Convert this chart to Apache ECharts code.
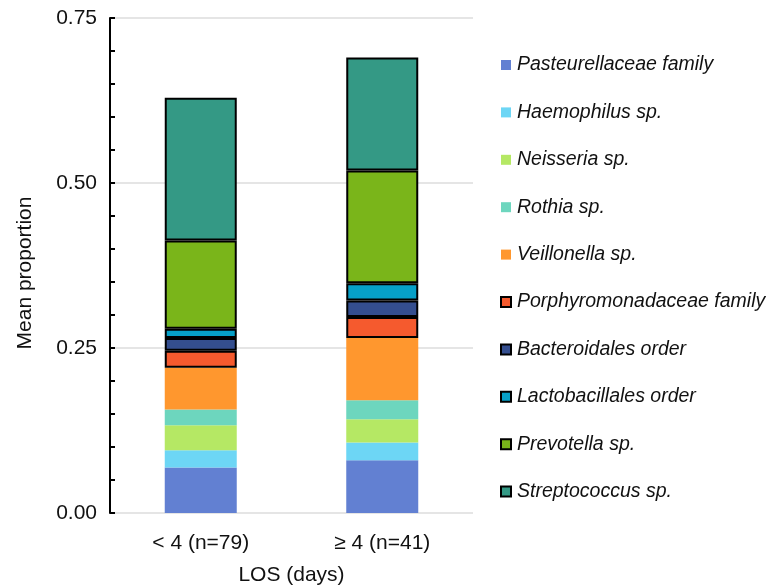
<!DOCTYPE html>
<html>
<head>
<meta charset="utf-8">
<script src="https://cdn.jsdelivr.net/npm/echarts@6/dist/echarts.min.js"></script>
<style>html,body{margin:0;padding:0;background:#fff}#c{width:766px;height:585px}</style>
</head>
<body>
<div id="c"></div>
<script>
const categories = ['< 4 (n=79)', '≥ 4 (n=41)'];
const seriesNames = ['Pasteurellaceae family','Haemophilus sp.','Neisseria sp.','Rothia sp.','Veillonella sp.','Porphyromonadaceae family','Bacteroidales order','Lactobacillales order','Prevotella sp.','Streptococcus sp.'];
const pasteurellaceae = [0.069, 0.080];
const haemophilus = [0.026, 0.027];
const neisseria = [0.038, 0.035];
const rothia = [0.024, 0.029];
const veillonella = [0.063, 0.094];
const porphyromonadaceae = [0.026, 0.032];
const bacteroidales = [0.019, 0.025];
const lactobacillales = [0.014, 0.026];
const prevotella = [0.134, 0.171];
const streptococcus = [0.216, 0.171];
const yTicks = [0, 0.25, 0.5, 0.75];

const allValues = [pasteurellaceae, haemophilus, neisseria, rothia, veillonella, porphyromonadaceae, bacteroidales, lactobacillales, prevotella, streptococcus];
const colors = ['#6280d2','#6dd6f5','#b5e864','#6dd6be','#ff972e','#f55a2e','#344e8f','#06a0c8','#7ab51a','#349985'];
const bordered = [false,false,false,false,false,true,true,true,true,true];

const series = seriesNames.map((n, i) => ({
  name: n,
  type: 'bar',
  stack: 'total',
  barWidth: 72,
  data: allValues[i],
  itemStyle: bordered[i] ? {color: colors[i], borderColor: '#000', borderWidth: 2} : {color: colors[i], borderWidth: 0}
}));

const chart = echarts.init(document.getElementById('c'), null, {renderer: 'canvas'});
chart.setOption({
  animation: false,
  textStyle: {fontFamily: 'Liberation Sans'},
  grid: {left: 110, right: 293, top: 18, bottom: 72, containLabel: false, outerBoundsMode: 'none'},
  legend: {
    orient: 'vertical', left: 500, top: 55, padding: 0,
    itemWidth: 10, itemHeight: 10, itemGap: 27.4, icon: 'rect',
    textStyle: {fontSize: 19.5, fontStyle: 'italic', color: '#111', lineHeight: 20, padding: [0, 0, 0, 1], fontFamily: 'Liberation Sans'},
    data: seriesNames
  },
  xAxis: {
    type: 'category', data: categories,
    axisLine: {show: false}, axisTick: {show: false},
    axisLabel: {fontSize: 21, color: '#111', margin: 20},
    name: 'LOS (days)', nameLocation: 'middle', nameGap: 52,
    nameTextStyle: {fontSize: 21, color: '#111'}
  },
  yAxis: {
    type: 'value', min: yTicks[0], max: yTicks[yTicks.length - 1], interval: 0.25,
    axisLine: {show: true, lineStyle: {color: '#000', width: 2}},
    axisTick: {show: true, inside: true, length: 5, lineStyle: {color: '#000', width: 2}},
    minorTick: {show: true, splitNumber: 5, length: 5, lineStyle: {color: '#000', width: 2}},
    splitLine: {show: true, lineStyle: {color: '#dddddd', width: 1.5}},
    axisLabel: {fontSize: 21, color: '#111', margin: 13, formatter: v => v.toFixed(2)},
    name: 'Mean proportion', nameLocation: 'middle', nameGap: 74.5,
    nameTextStyle: {fontSize: 21, color: '#111', padding: [0, 15, 0, 0]}
  },
  series: series
});
</script>
</body>
</html>
